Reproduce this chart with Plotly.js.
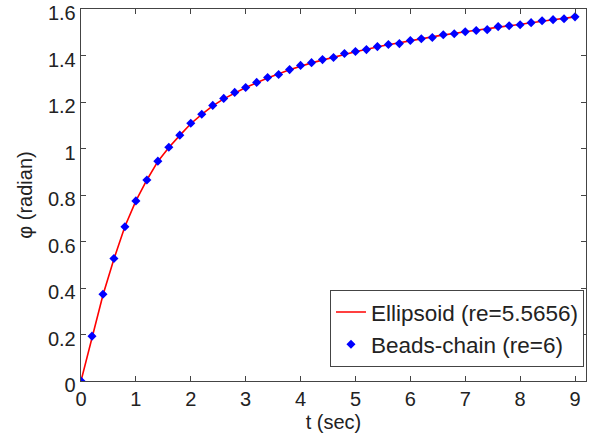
<!DOCTYPE html>
<html><head><meta charset="utf-8">
<script src="https://cdn.plot.ly/plotly-3.0.1.min.js"></script>
<style>body{margin:0;background:#fff}#c{width:597px;height:439px}</style>
</head><body><div id="c"></div>
<script>
var tBeads = [0,0.2,0.4,0.6,0.8,1.0,1.2,1.4,1.6,1.8,2.0,2.2,2.4,2.6,2.8,3.0,3.2,3.4,3.6,3.8,4.0,4.2,4.4,4.6,4.8,5.0,5.2,5.4,5.6,5.8,6.0,6.2,6.4,6.6,6.8,7.0,7.2,7.4,7.6,7.8,8.0,8.2,8.4,8.6,8.8,9.0];
var phiBeads = [0,0.193,0.373,0.527,0.664,0.775,0.865,0.946,1.006,1.058,1.109,1.148,1.186,1.216,1.242,1.263,1.285,1.306,1.319,1.340,1.358,1.370,1.383,1.392,1.409,1.418,1.426,1.439,1.448,1.452,1.465,1.473,1.478,1.490,1.494,1.503,1.508,1.512,1.525,1.529,1.533,1.542,1.550,1.555,1.559,1.567];
var tEll = [0,0.2,0.4,0.6,0.8,1.0,1.2,1.4,1.6,1.8,2.0,2.2,2.4,2.6,2.8,3.0,3.4,3.8,4.2,4.6,5.0,5.5,6.0,6.5,7.0,7.5,8.0,8.5,9.0];
var phiEll = [0,0.19,0.37,0.525,0.665,0.775,0.865,0.945,1.005,1.057,1.107,1.147,1.184,1.214,1.240,1.263,1.304,1.339,1.369,1.393,1.417,1.443,1.465,1.485,1.503,1.520,1.535,1.551,1.567];
var names = ["Ellipsoid (re=5.5656)", "Beads-chain (re=6)"];
var xTicks = [0,1,2,3,4,5,6,7,8,9];
var yTicks = [0,0.2,0.4,0.6,0.8,1,1.2,1.4,1.6];
var yTickText = ["0","0.2","0.4","0.6","0.8","1","1.2","1.4","1.6"];

var fam = "Liberation Sans, Arial, sans-serif";
var tickFont = {family: fam, size: 20, color: "#222"};
var titleFont = {family: fam, size: 20, color: "#222"};
var legFont = {family: fam, size: 22.5, color: "#222"};
var traces = [
  {x: tEll, y: phiEll, name: names[0], mode: "lines", line: {color: "#ff0000", width: 1.6}},
  {x: tBeads, y: phiBeads, name: names[1], mode: "markers", marker: {color: "#0000ff", symbol: "diamond", size: 7}}
];
var ax = {showgrid: false, zeroline: false, showline: true, linecolor: "#444", linewidth: 1.3, mirror: "ticks", ticks: "inside", ticklen: 5, tickcolor: "#444", tickfont: tickFont, tickmode: "array", ticklabeloverflow: "allow"};
var layout = {
  width: 597, height: 439,
  margin: {l: 81, r: 11, t: 9, b: 58},
  paper_bgcolor: "#fff", plot_bgcolor: "#fff",
  showlegend: true,
  font: tickFont,
  xaxis: Object.assign({}, ax, {range: [0, 9.2], tickvals: xTicks, ticktext: xTicks.map(String), title: {text: "t (sec)", font: titleFont, standoff: 5}}),
  yaxis: Object.assign({}, ax, {range: [0, 1.6008], tickvals: yTicks, ticktext: yTickText, ticklabelshift: 4, title: {text: "\u03c6 (radian)", font: titleFont, standoff: 10}}),
  legend: {x: 0.996, y: 0.038, xanchor: "right", yanchor: "bottom", bgcolor: "#fff", bordercolor: "#444", borderwidth: 1, font: legFont, tracegroupgap: 0, itemwidth: 30}
};
Plotly.newPlot("c", traces, layout, {staticPlot: true});
</script></body></html>
